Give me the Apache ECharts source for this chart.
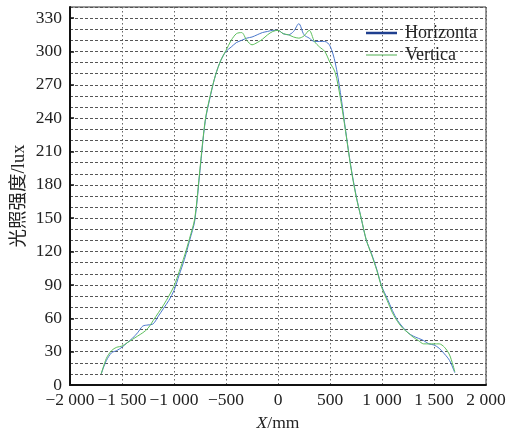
<!DOCTYPE html>
<html>
<head>
<meta charset="utf-8">
<script src="https://cdn.jsdelivr.net/npm/echarts@6/dist/echarts.min.js"></script>
<style>
  html, body { margin: 0; padding: 0; background: #fff; }
  #chart { width: 512px; height: 434px; }
</style>
</head>
<body>
<div id="chart"></div>
<script>
// Position along the measured line, mm
const positions = [
  -1700, -1650, -1600, -1550, -1500, -1450, -1400, -1350, -1300, -1250,
  -1200, -1150, -1100, -1050, -1000, -950, -900, -850, -800, -750,
  -700, -650, -600, -550, -500, -450, -400, -350, -300, -250,
  -200, -150, -100, -50, 0, 50, 100, 150, 200, 250,
  300, 350, 400, 450, 500, 550, 600, 650, 700, 750,
  800, 850, 900, 950, 1000, 1050, 1100, 1150, 1200, 1250,
  1300, 1350, 1400, 1450, 1500, 1550, 1600, 1650, 1700
];

// Illuminance along the horizontal direction, lux
const horizontal = [
  10, 22, 29, 31, 34, 38, 42, 47, 53, 54,
  55, 62, 69, 76, 85, 99, 113, 130, 148, 193,
  237, 260, 279, 292, 300, 304, 308, 310, 312, 313,
  315, 317, 318, 319, 319, 316, 315, 318, 325, 315,
  312, 309, 309, 309, 305, 290, 263, 229, 197, 171,
  150, 130, 118, 104, 88, 78, 67, 58, 52, 47,
  44, 42, 40, 37, 36, 33, 28, 22, 11
];

// Illuminance along the vertical direction, lux
const vertical = [
  10, 24, 31, 34, 35, 38, 41, 44, 47, 51,
  58, 65, 72, 80, 89, 102, 116, 132, 150, 195,
  238, 261, 279, 292, 301, 310, 316, 317, 310, 306,
  308, 311, 315, 318, 319, 316, 315, 313, 312, 314,
  319, 309, 304, 300, 290, 281, 258, 228, 196, 170,
  150, 130, 117, 103, 87, 76, 65, 57, 51, 47,
  43, 40, 37, 37, 37, 37, 34, 27, 12
];

const seriesNames = ['Horizonta', 'Vertica'];
const xTicks = { min: -2000, max: 2000, step: 500 };
const yTicks = { min: 0, max: 340, step: 30, minorStep: 10 };

const SERIF = '"Liberation Serif", "Noto Sans CJK SC", serif';
const TEXT = '#222';

function pairs(xs, ys) {
  return xs.map((x, i) => [x, ys[i]]);
}

function formatThousands(v) {
  const neg = v < 0;
  const s = String(Math.abs(v)).replace(/\B(?=(\d{3})+(?!\d))/g, ' ');
  return (neg ? '\u2212' : '') + s;
}

const chart = echarts.init(document.getElementById('chart'), null, { renderer: 'canvas' });

const legendText = { fontFamily: SERIF, fontSize: 18, color: TEXT, padding: [0, 0, 0, 3] };

chart.setOption({
  animation: false,
  backgroundColor: '#fff',
  grid: {
    left: 70, right: 26, top: 7, bottom: 49,
    containLabel: false,
    outerBoundsMode: 'none',
    show: true, borderColor: '#333', borderWidth: 1, backgroundColor: 'transparent'
  },
  legend: [
    {
      data: [seriesNames[0]],
      left: 361, top: 19,
      icon: 'rect', itemWidth: 31, itemHeight: 2.5,
      textStyle: legendText
    },
    {
      data: [seriesNames[1]],
      left: 361, top: 41,
      icon: 'rect', itemWidth: 31, itemHeight: 1,
      textStyle: legendText
    }
  ],
  xAxis: {
    type: 'value',
    min: xTicks.min, max: xTicks.max, interval: xTicks.step,
    name: '{i|X}/mm',
    nameLocation: 'middle', nameGap: 29,
    nameTextStyle: {
      fontFamily: SERIF, fontSize: 17.5, color: TEXT,
      rich: { i: { fontFamily: SERIF, fontSize: 17.5, fontStyle: 'italic', color: TEXT } }
    },
    axisLine: { show: true, onZero: false, lineStyle: { color: '#111', width: 2 } },
    axisTick: { show: false },
    axisLabel: {
      fontFamily: SERIF, fontSize: 17.5, color: TEXT, margin: 7,
      formatter: formatThousands
    },
    splitLine: { show: true, lineStyle: { color: '#666', type: [1.5, 2.5], width: 1 } }
  },
  yAxis: [
    {
      type: 'value',
      min: yTicks.min, max: yTicks.max, interval: yTicks.step,
      name: '光照强度/lux',
      nameLocation: 'middle', nameGap: 42,
      nameMoveOverlap: false,
      nameTextStyle: { fontFamily: SERIF, fontSize: 18.5, color: TEXT },
      axisLine: { show: true, onZero: false, lineStyle: { color: '#111', width: 2 } },
      axisTick: { show: true, inside: true, length: 4, lineStyle: { color: '#111', width: 1.5 } },
      axisLabel: { fontFamily: SERIF, fontSize: 17.5, color: TEXT, margin: 8, showMaxLabel: false },
      splitLine: { show: false }
    },
    {
      type: 'value',
      min: yTicks.min, max: yTicks.max, interval: yTicks.minorStep,
      position: 'left',
      axisLine: { show: false, onZero: false },
      axisTick: { show: false },
      axisLabel: { show: false },
      splitLine: { show: true, lineStyle: { color: '#555', type: [3, 2], width: 1 } }
    }
  ],
  series: [
    {
      name: seriesNames[0],
      type: 'line',
      yAxisIndex: 0,
      data: pairs(positions, horizontal),
      smooth: 0.3,
      showSymbol: false,
      color: '#1f3f8f',
      lineStyle: { color: '#4a78cc', width: 1 },
      z: 3
    },
    {
      name: seriesNames[1],
      type: 'line',
      yAxisIndex: 0,
      data: pairs(positions, vertical),
      smooth: 0.3,
      showSymbol: false,
      color: '#4caf50',
      lineStyle: { color: '#5cbf5c', width: 1 },
      z: 4
    }
  ]
});
</script>
</body>
</html>
